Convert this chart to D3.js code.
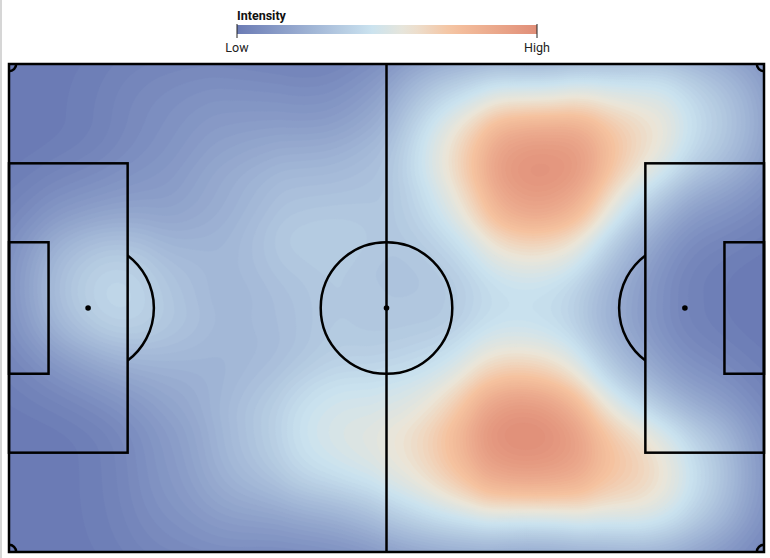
<!DOCTYPE html>
<html>
<head>
<meta charset="utf-8">
<script src="https://cdn.jsdelivr.net/npm/d3@7"></script>
<style>
  body { margin: 0; background: #fff; }
  svg { display: block; font-family: Roboto, "Noto Sans", sans-serif; }
</style>
</head>
<body>
<svg width="770" height="558"></svg>
<script>
// touch spots on the pitch, metres (x along 105, y across 68) with a weight
var spotX = [74, 62, 85, 72,   73, 60, 86, 71,   97, 94, 46,   12,   84, 40, 50, 45, 56, 28, 32, 35, 62, 20, 22, 25, 35];
var spotY = [15,  9,  9, 28,   53, 58, 58, 44,    8, 57, 52,   31,   34, 30, 38, 18, 26, 42, 22, 55, 44, 34,  8, 60, 10];
var spotW = [1.0, .5, .5, .35, 1.0, .5, .45, .3, .4, .4, .5,   .45,  .15, .22, .2, .22, .2, .18, .15, .18, .15, .15, .1, .12, .1];

// legend
var colorStops  = [0, 0.45, 0.57, 0.72, 1];
var colorValues = ["#6b7bb5", "#cbe3ef", "#ebe5d7", "#f5c29f", "#e08e78"];
var legendLabels = ["Low", "High"];

var pitchLength = 105, pitchWidth = 68;

var svg = d3.select("svg");

var x = d3.scaleLinear().domain([0, pitchLength]).range([9, 764]);
var y = d3.scaleLinear().domain([0, pitchWidth]).range([64, 552]);

var color = d3.scaleLinear().domain(colorStops).range(colorValues).clamp(true);

var spots = spotX.map(function(d, i){ return { x: d, y: spotY[i], w: spotW[i] }; });

// page edge
svg.append("rect").attr("x", 0).attr("y", 0).attr("width", 2).attr("height", 558).attr("fill", "#d6d6d6");

svg.append("clipPath").attr("id", "pitch-clip")
  .append("rect")
    .attr("x", x(0)).attr("y", y(0))
    .attr("width", x(pitchLength) - x(0)).attr("height", y(pitchWidth) - y(0));

var heat = svg.append("g").attr("clip-path", "url(#pitch-clip)");

heat.append("rect")
  .attr("x", x(0)).attr("y", y(0))
  .attr("width", x(pitchLength) - x(0)).attr("height", y(pitchWidth) - y(0))
  .attr("fill", color(0));

var density = d3.contourDensity()
  .x(function(d){ return x(d.x); })
  .y(function(d){ return y(d.y); })
  .weight(function(d){ return d.w; })
  .size([770, 558])
  .cellSize(2)
  .bandwidth(56);

var nLevels = 60, contours, maxV;
if (typeof density.contours === "function") {
  var cf = density.contours(spots);
  maxV = cf.max;
  contours = d3.range(1, nLevels + 1).map(function(i){ return cf(maxV * i / (nLevels + 1)); });
} else {
  contours = density.thresholds(nLevels)(spots);
  maxV = d3.max(contours, function(c){ return c.value; });
}

heat.selectAll("path.band")
  .data(contours)
  .enter().append("path")
    .attr("class", "band")
    .attr("d", d3.geoPath())
    .attr("fill", function(d){ return color(d.value / maxV); })
    .attr("stroke", function(d){ return color(d.value / maxV); })
    .attr("stroke-width", 0.5);

// pitch markings
var lines = svg.append("g")
  .attr("fill", "none")
  .attr("stroke", "#000")
  .attr("stroke-width", 2.5);

function box(x0, y0, x1, y1){
  lines.append("rect")
    .attr("x", x(x0)).attr("y", y(y0))
    .attr("width", x(x1) - x(x0)).attr("height", y(y1) - y(y0));
}
box(0, 0, pitchLength, pitchWidth);
box(0, 34 - 20.16, 16.5, 34 + 20.16);
box(0, 34 - 9.16, 5.5, 34 + 9.16);
box(pitchLength - 16.5, 34 - 20.16, pitchLength, 34 + 20.16);
box(pitchLength - 5.5, 34 - 9.16, pitchLength, 34 + 9.16);

lines.append("line")
  .attr("x1", x(pitchLength / 2)).attr("x2", x(pitchLength / 2))
  .attr("y1", y(0)).attr("y2", y(pitchWidth));

var r = x(9.15) - x(0);
lines.append("circle")
  .attr("cx", x(pitchLength / 2)).attr("cy", y(34)).attr("r", r);

var a = Math.acos(5.5 / 9.15);
lines.append("path")
  .attr("transform", "translate(" + x(11) + "," + y(34) + ")")
  .attr("d", d3.arc()({ innerRadius: r, outerRadius: r, startAngle: Math.PI / 2 - a, endAngle: Math.PI / 2 + a }));
lines.append("path")
  .attr("transform", "translate(" + x(pitchLength - 11) + "," + y(34) + ")")
  .attr("d", d3.arc()({ innerRadius: r, outerRadius: r, startAngle: 3 * Math.PI / 2 - a, endAngle: 3 * Math.PI / 2 + a }));

var cr = x(1) - x(0);
[[0, 0, 90, 180], [pitchLength, 0, 180, 270], [pitchLength, pitchWidth, 270, 360], [0, pitchWidth, 0, 90]].forEach(function(c){
  lines.append("path")
    .attr("transform", "translate(" + x(c[0]) + "," + y(c[1]) + ")")
    .attr("d", d3.arc()({ innerRadius: cr, outerRadius: cr, startAngle: c[2] * Math.PI / 180, endAngle: c[3] * Math.PI / 180 }));
});

[11, pitchLength / 2, pitchLength - 11].forEach(function(px){
  svg.append("circle").attr("cx", x(px)).attr("cy", y(34)).attr("r", 2.8).attr("fill", "#000");
});

// legend
var lx = d3.scaleLinear().domain([0, 1]).range([237, 537]);
var grad = svg.append("defs").append("linearGradient").attr("id", "legend-grad");
grad.selectAll("stop")
  .data(d3.range(0, 1.0001, 0.05))
  .enter().append("stop")
    .attr("offset", function(d){ return (d * 100) + "%"; })
    .attr("stop-color", function(d){ return color(d); });

var legend = svg.append("g");
legend.append("text")
  .attr("x", lx(0)).attr("y", 20)
  .attr("font-size", 12.5).attr("font-weight", "bold").attr("fill", "#111")
  .text("Intensity");
legend.append("rect")
  .attr("x", lx(0)).attr("y", 25).attr("width", lx(1) - lx(0)).attr("height", 9)
  .attr("fill", "url(#legend-grad)");
legend.selectAll("line.tick")
  .data([0, 1])
  .enter().append("line")
    .attr("class", "tick")
    .attr("x1", lx).attr("x2", lx).attr("y1", 24).attr("y2", 38)
    .attr("stroke", "#222").attr("stroke-width", 1);
legend.selectAll("text.lab")
  .data([0, 1])
  .enter().append("text")
    .attr("class", "lab")
    .attr("x", lx).attr("y", 52)
    .attr("text-anchor", "middle").attr("font-size", 12.5).attr("fill", "#222")
    .text(function(d, i){ return legendLabels[i]; });
</script>
</body>
</html>
